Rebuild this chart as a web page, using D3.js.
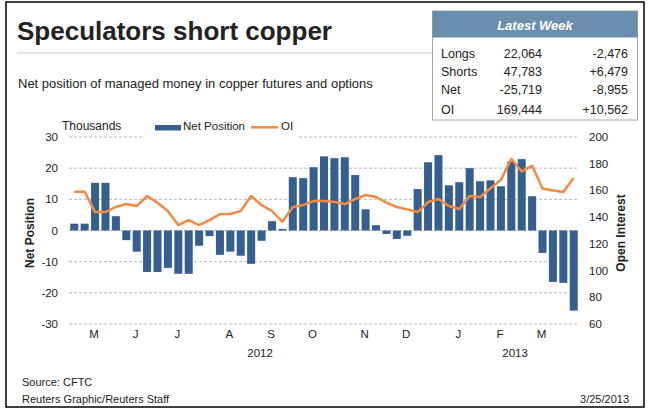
<!DOCTYPE html>
<html>
<head>
<meta charset="utf-8">
<script src="https://cdn.jsdelivr.net/npm/d3@7/dist/d3.min.js"></script>
<style>
  body { margin: 0; background: #fff; }
  svg text { font-family: "Liberation Sans", Arial, sans-serif; fill: #222; }
</style>
</head>
<body>
<div id="chart"></div>
<script>
// weekly CFTC report dates (Tuesdays)
const weeks = [
  "2012-04-17", "2012-04-24", "2012-05-01", "2012-05-08", "2012-05-15", "2012-05-22", "2012-05-29",
  "2012-06-05", "2012-06-12", "2012-06-19", "2012-06-26", "2012-07-03", "2012-07-10", "2012-07-17",
  "2012-07-24", "2012-07-31", "2012-08-07", "2012-08-14", "2012-08-21", "2012-08-28", "2012-09-04",
  "2012-09-11", "2012-09-18", "2012-09-25", "2012-10-02", "2012-10-09", "2012-10-16", "2012-10-23",
  "2012-10-30", "2012-11-06", "2012-11-13", "2012-11-20", "2012-11-27", "2012-12-04", "2012-12-11",
  "2012-12-18", "2012-12-25", "2013-01-01", "2013-01-08", "2013-01-15", "2013-01-22", "2013-01-29",
  "2013-02-05", "2013-02-12", "2013-02-19", "2013-02-26", "2013-03-05", "2013-03-12", "2013-03-19"
];

// net position, thousands of contracts
const netPosition = [
  2.2, 2.2, 15.3, 15.3, 4.6, -3.1, -6.8, -13.3, -13.3, -12.0, -13.9, -13.9, -4.9, -1.8,
  -7.8, -6.8, -8.1, -10.7, -3.3, 3.0, 0.5, 17.1, 16.8, 20.3, 23.8, 23.2, 23.5, 17.8,
  6.8, 1.7, -1.1, -2.7, -1.7, 13.3, 21.9, 24.2, 14.5, 15.5, 20.0, 15.8, 16.1, 14.2,
  22.2, 22.9, 11.0, -7.2, -16.5, -16.8, -25.7
];

// open interest, thousands of contracts
const openInterest = [
  159.1, 159.1, 143.8, 143.8, 147.6, 149.8, 148.3, 155.8, 150.8, 144.6, 134.0, 137.8, 134.0, 137.8,
  142.3, 142.3, 144.6, 155.8, 149.0, 144.6, 136.5, 147.6, 149.0, 152.1, 152.1, 151.3, 149.8, 153.6,
  156.6, 155.1, 150.8, 147.6, 145.8, 143.8, 151.3, 153.6, 148.3, 146.1, 155.8, 155.1, 161.6, 167.9,
  183.7, 174.2, 178.4, 161.4, 159.9, 158.9, 169.4
];

const monthLabels = ["M", "J", "J", "A", "S", "O", "N", "D", "J", "F", "M"];
const monthWeeks = ["2012-05-01", "2012-05-29", "2012-06-26", "2012-07-31", "2012-08-28", "2012-09-25",
                    "2012-10-30", "2012-11-27", "2013-01-01", "2013-01-29", "2013-02-26"];
const years = ["2012", "2013"];
const yearStarts = ["2012-04-17", "2013-01-01"];

const leftTicks = [-30, -20, -10, 0, 10, 20, 30];
const rightTicks = [60, 80, 100, 120, 140, 160, 180, 200];

const tableLabels = ["Longs", "Shorts", "Net", "OI"];
const tableValues = ["22,064", "47,783", "-25,719", "169,444"];
const tableChanges = ["-2,476", "+6,479", "-8,955", "+10,562"];

const w = 650;
const h = 411;
const barColor = "#365f91";
const lineColor = "#f58a3e";

const svg = d3.select("#chart")
  .append("svg")
  .attr("width", w)
  .attr("height", h);

// frame
svg.append("rect")
  .attr("x", 6).attr("y", 2)
  .attr("width", 638).attr("height", 405)
  .attr("fill", "#fff")
  .attr("stroke", "#000")
  .attr("stroke-width", 1.5);

// title block
svg.append("text")
  .attr("x", 17).attr("y", 40)
  .attr("font-size", 26).attr("font-weight", "bold")
  .text("Speculators short copper");

svg.append("line")
  .attr("x1", 17).attr("x2", 432)
  .attr("y1", 53).attr("y2", 53)
  .attr("stroke", "#c4c4c4");

svg.append("text")
  .attr("x", 18).attr("y", 88)
  .attr("font-size", 13)
  .text("Net position of managed money in copper futures and options");

// scales
const x = d3.scaleBand()
  .domain(weeks)
  .range([69, 579])
  .paddingInner(0.23)
  .paddingOuter(0.12);

const yL = d3.scaleLinear().domain([-30, 30]).range([324, 137]);
const yR = d3.scaleLinear().domain([60, 200]).range([324, 137]);

const cx = (d) => x(d) + x.bandwidth() / 2;

// grid
svg.append("g")
  .selectAll("line")
  .data(leftTicks)
  .join("line")
  .attr("x1", 69).attr("x2", 579)
  .attr("y1", (d) => yL(d)).attr("y2", (d) => yL(d))
  .attr("stroke", "#b8b8b8")
  .attr("stroke-dasharray", "3,2");

// left axis labels
svg.append("g")
  .selectAll("text")
  .data(leftTicks)
  .join("text")
  .attr("x", 58)
  .attr("y", (d) => yL(d) + 4)
  .attr("text-anchor", "end")
  .attr("font-size", 11.5)
  .text((d) => d);

// right axis labels
svg.append("g")
  .selectAll("text")
  .data(rightTicks)
  .join("text")
  .attr("x", 589)
  .attr("y", (d) => yR(d) + 4)
  .attr("font-size", 11.5)
  .text((d) => d);

svg.append("text")
  .attr("transform", "translate(34,233) rotate(-90)")
  .attr("text-anchor", "middle")
  .attr("font-size", 12).attr("font-weight", "bold")
  .text("Net Position");

svg.append("text")
  .attr("transform", "translate(625,233) rotate(-90)")
  .attr("text-anchor", "middle")
  .attr("font-size", 12).attr("font-weight", "bold")
  .text("Open Interest");

// bars
svg.append("g")
  .selectAll("rect")
  .data(netPosition)
  .join("rect")
  .attr("x", (d, i) => x(weeks[i]))
  .attr("width", x.bandwidth())
  .attr("y", (d) => yL(Math.max(0, d)))
  .attr("height", (d) => Math.abs(yL(d) - yL(0)))
  .attr("fill", barColor);

// open interest line
const line = d3.line()
  .x((d, i) => cx(weeks[i]))
  .y((d) => yR(d));

svg.append("path")
  .datum(openInterest)
  .attr("fill", "none")
  .attr("stroke", lineColor)
  .attr("stroke-width", 2.5)
  .attr("stroke-linejoin", "round")
  .attr("d", line);

// x axis: months and years
svg.append("g")
  .selectAll("text")
  .data(monthLabels)
  .join("text")
  .attr("x", (d, i) => cx(monthWeeks[i]) - 1)
  .attr("y", 338)
  .attr("text-anchor", "middle")
  .attr("font-size", 11.5)
  .text((d) => d);

const [r0, r1] = x.range();
svg.append("g")
  .selectAll("text")
  .data(years)
  .join("text")
  .attr("x", (d, i) => {
    const a = i === 0 ? r0 : x(yearStarts[i]);
    const b = i === years.length - 1 ? r1 : x(yearStarts[i + 1]);
    return (a + b) / 2 - 2;
  })
  .attr("y", 357)
  .attr("text-anchor", "middle")
  .attr("font-size", 11.5)
  .text((d) => d);

// legend
svg.append("rect")
  .attr("x", 143).attr("y", 116)
  .attr("width", 156).attr("height", 23)
  .attr("fill", "#fff");

svg.append("text")
  .attr("x", 62).attr("y", 129.5)
  .attr("font-size", 12)
  .text("Thousands");

svg.append("rect")
  .attr("x", 155).attr("y", 125)
  .attr("width", 26).attr("height", 5.5)
  .attr("fill", barColor);

svg.append("text")
  .attr("x", 183).attr("y", 129.5)
  .attr("font-size", 11.5)
  .text("Net Position");

svg.append("line")
  .attr("x1", 251).attr("x2", 278)
  .attr("y1", 127.3).attr("y2", 127.3)
  .attr("stroke", lineColor)
  .attr("stroke-width", 2.5);

svg.append("text")
  .attr("x", 281).attr("y", 129.5)
  .attr("font-size", 11.5)
  .text("OI");

// latest week table
const tbl = svg.append("g");
tbl.append("rect")
  .attr("x", 432.5).attr("y", 11)
  .attr("width", 205).attr("height", 109)
  .attr("fill", "#fff")
  .attr("stroke", "#a8a8a8");

tbl.append("rect")
  .attr("x", 432.5).attr("y", 11)
  .attr("width", 205).attr("height", 26.5)
  .attr("fill", "#6a8fae");

tbl.append("text")
  .attr("x", 535).attr("y", 29.5)
  .attr("text-anchor", "middle")
  .attr("font-size", 13).attr("font-weight", "bold").attr("font-style", "italic")
  .style("fill", "#fff")
  .text("Latest Week");

const rowY = [57.5, 76, 93.5, 114];
tableLabels.forEach((lab, i) => {
  tbl.append("text").attr("x", 441).attr("y", rowY[i])
    .attr("font-size", 12.5).text(lab);
  tbl.append("text").attr("x", 542).attr("y", rowY[i])
    .attr("text-anchor", "end").attr("font-size", 12.5).text(tableValues[i]);
  tbl.append("text").attr("x", 628).attr("y", rowY[i])
    .attr("text-anchor", "end").attr("font-size", 12.5).text(tableChanges[i]);
});

// footer
svg.append("text")
  .attr("x", 22).attr("y", 386)
  .attr("font-size", 11)
  .text("Source: CFTC");

svg.append("text")
  .attr("x", 22).attr("y", 403)
  .attr("font-size", 11)
  .text("Reuters Graphic/Reuters Staff");

svg.append("text")
  .attr("x", 629).attr("y", 403)
  .attr("text-anchor", "end")
  .attr("font-size", 11)
  .text("3/25/2013");
</script>
</body>
</html>
